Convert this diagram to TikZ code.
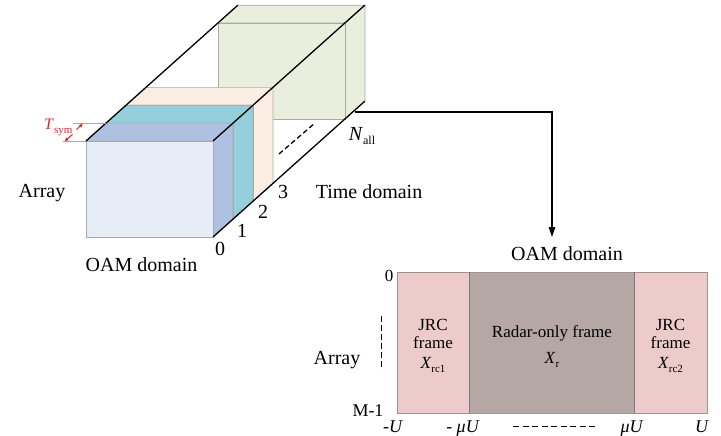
\documentclass[tikz,border=0pt]{standalone}
\usepackage{fontspec}
\setmainfont{Liberation Serif}
\usetikzlibrary{arrows.meta}

\definecolor{blueface}{HTML}{E7EDF7}
\definecolor{blueside}{HTML}{AEC1E2}
\definecolor{tealface}{HTML}{95CFDB}
\definecolor{peachface}{HTML}{FDEEE4}
\definecolor{greenface}{HTML}{EAEEDC}
\definecolor{edgegray}{HTML}{A8ABA8}
\definecolor{jrcpink}{HTML}{EDCBCB}
\definecolor{radarbrown}{HTML}{B5A7A3}
\definecolor{framegray}{HTML}{9C9494}
\definecolor{symred}{HTML}{E02424}

% subscript set as small lowered text
\newcommand{\lowsub}[2][12]{\raisebox{-0.25em}{\fontsize{#1}{#1}\selectfont #2}}

% one slab of the time-domain stack: depth from #1 to #2, fills front/top/side
\newcommand{\slabbox}[5]{%
  \pgfmathsetmacro{\xla}{86+#1}\pgfmathsetmacro{\xra}{213+#1}%
  \pgfmathsetmacro{\yta}{141-0.8935*#1}\pgfmathsetmacro{\yba}{237-0.8935*#1}%
  \pgfmathsetmacro{\xlb}{86+#2}\pgfmathsetmacro{\xrb}{213+#2}%
  \pgfmathsetmacro{\ytb}{141-0.8935*#2}\pgfmathsetmacro{\ybb}{237-0.8935*#2}%
  \filldraw[slabedge, fill=#4] (\xla,\yta) -- (\xra,\yta) -- (\xrb,\ytb) -- (\xlb,\ytb) -- cycle;
  \filldraw[slabedge, fill=#5] (\xra,\yta) -- (\xrb,\ytb) -- (\xrb,\ybb) -- (\xra,\yba) -- cycle;
  \filldraw[slabedge, fill=#3] (\xla,\yta) rectangle (\xra,\yba);
}

\begin{document}
\begin{tikzpicture}[x=1pt, y=-1pt,
  slabedge/.style={draw=edgegray, line width=0.7pt},
  boxline/.style={line width=1.3pt, black},
  lbl/.style={inner sep=0pt, anchor=base, font=\fontsize{20}{24}\selectfont},
  inlbl/.style={inner sep=0pt, anchor=base, font=\fontsize{17}{20}\selectfont},
  axlbl/.style={inner sep=0pt, anchor=base, font=\fontsize{18}{20}\selectfont},
  guide/.style={draw=edgegray, line width=0.7pt},
  symarrow/.style={symred, line width=1pt, -{Latex[length=4pt,width=4pt]}},
  dimdash/.style={line width=1pt, dash pattern=on 6pt off 3.5pt}]

\useasboundingbox (0,0) rectangle (721,436);

% time-domain stack, painted back to front
\slabbox{132}{152}{greenface}{greenface}{greenface}
\slabbox{40}{60}{peachface}{peachface}{peachface}
\slabbox{20}{40}{tealface}{tealface}{tealface}
\slabbox{0}{20}{blueface}{blueside}{blueside}

% outline of the stack
\coordinate (ftl) at (86,141);
\coordinate (ftr) at (213,141);
\coordinate (fbr) at (213,237);
\coordinate (btl) at (237.8,5.2);
\coordinate (btr) at (364.8,5.2);
\coordinate (bbr) at (364.8,101.2);
\draw[boxline] (ftl) -- (btl);
\draw[boxline] (ftr) -- (btr);
\draw[boxline] (fbr) -- (bbr);

% skipped symbols
\coordinate (gapa) at (279,154);
\coordinate (gapb) at (315,123);
\draw[line width=1.3pt, dash pattern=on 5pt off 3pt] (gapa) -- (gapb);

% symbol duration marker
\coordinate (ga1) at (73,123.1);
\coordinate (ga2) at (106,123.1);
\coordinate (gb1) at (63,141);
\coordinate (gb2) at (86,141);
\draw[guide] (ga1) -- (ga2);
\draw[guide] (gb1) -- (gb2);
\coordinate (sa) at (76.5,129.5);
\coordinate (sb) at (83,123.6);
\coordinate (sc) at (72.5,134.5);
\coordinate (sd) at (64.5,141.5);
\draw[symarrow] (sa) -- (sb);
\draw[symarrow] (sc) -- (sd);
\node[inner sep=0pt, anchor=base west, text=symred, font=\fontsize{16}{18}\selectfont] (tsym) at (44,129) {\textit{T}\lowsub[11]{sym}};

% labels of the stack
\node[lbl] (n0) at (220,255) {0};
\node[lbl] (n1) at (242,237) {1};
\node[lbl] (n2) at (263,218) {2};
\node[lbl] (n3) at (283,198) {3};
\node[lbl] (nall) at (362,140) {\textit{N}\lowsub{all}};
\node[lbl] (timedom) at (369,198) {Time domain};
\node[lbl] (arrayl) at (42,197) {Array};
\node[lbl] (oaml) at (141.5,271) {OAM domain};

% link to the frame layout
\coordinate (branch) at (354.5,112);
\coordinate (arrowend) at (552,237);
\draw[line width=1.2pt, -{Triangle[length=10pt,width=6.5pt]}] (branch) -| (arrowend);
\node[lbl] (oamr) at (567,260) {OAM domain};

% frame layout in the OAM domain
\fill[jrcpink] (397,272) rectangle (469,413);
\fill[radarbrown] (469,272) rectangle (634,413);
\fill[jrcpink] (634,272) rectangle (707,413);
\draw[framegray, line width=0.8pt] (397,272) rectangle (707,413);
\draw[framegray!80!black, line width=0.8pt] (469,272) -- (469,413);
\draw[framegray!80!black, line width=0.8pt] (634,272) -- (634,413);

\node[inlbl] (jrcl1) at (433,330) {JRC};
\node[inlbl] (jrcl2) at (433,348.5) {frame};
\node[inlbl] (jrcl3) at (433,368) {\textit{X}\lowsub[11]{rc1}};
\node[inlbl] (radar1) at (552,337) {Radar-only frame};
\node[inlbl] (radar2) at (552,363) {\textit{X}\lowsub[11]{r}};
\node[inlbl] (jrcr1) at (670.5,330) {JRC};
\node[inlbl] (jrcr2) at (670.5,348.5) {frame};
\node[inlbl] (jrcr3) at (670.5,368) {\textit{X}\lowsub[11]{rc2}};

% array axis
\node[inlbl] (row0) at (389,281) {0};
\node[axlbl] (rowm) at (368,416) {M-1};
\node[lbl] (arrayr) at (337,364) {Array};
\coordinate (ava) at (381,316);
\coordinate (avb) at (381,370);
\draw[line width=1pt, dash pattern=on 6pt off 3pt] (ava) -- (avb);

% OAM axis
\node[axlbl] (um) at (393,432.5) {-\textit{U}};
\node[axlbl] (mum) at (463,432.5) {- \textit{μU}};
\node[axlbl] (mup) at (632,432.5) {\textit{μU}};
\node[axlbl] (up) at (702,432.5) {\textit{U}};
\coordinate (aha) at (513,426.5);
\coordinate (ahb) at (597,426.5);
\draw[dimdash] (aha) -- (ahb);

\end{tikzpicture}
\end{document}
